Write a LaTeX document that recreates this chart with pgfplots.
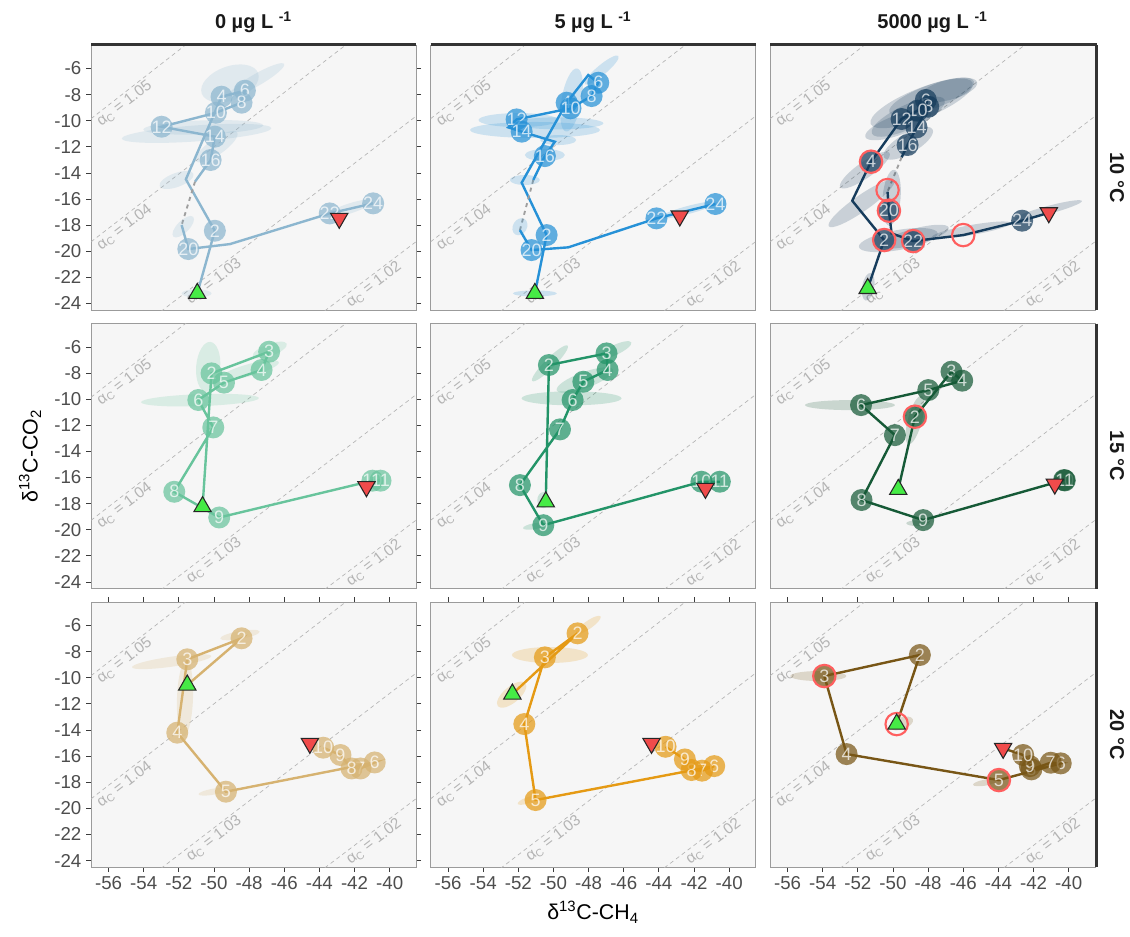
\documentclass[border=0pt]{standalone}
\usepackage{fontspec}
\setmainfont{Liberation Sans}
\usepackage{pgfplots}
\pgfplotsset{compat=1.18}

\definecolor{panbg}{RGB}{246,246,246}
\definecolor{bord}{RGB}{155,155,155}
\definecolor{tickc}{RGB}{60,60,60}
\definecolor{labc}{RGB}{77,77,77}
\definecolor{refc}{RGB}{180,180,180}
\definecolor{stripc}{RGB}{51,51,51}
\definecolor{ringred}{RGB}{255,95,95}
\definecolor{startg}{RGB}{70,235,70}
\definecolor{endr}{RGB}{240,75,75}
\definecolor{cA}{RGB}{140,182,207}
\definecolor{cB}{RGB}{38,145,215}
\definecolor{cC}{RGB}{22,60,92}
\definecolor{cD}{RGB}{104,196,156}
\definecolor{cE}{RGB}{35,148,104}
\definecolor{cF}{RGB}{22,90,55}
\definecolor{cG}{RGB}{214,178,112}
\definecolor{cH}{RGB}{229,154,20}
\definecolor{cI}{RGB}{120,86,22}

\pgfdeclareplotmark{ell}{%
  \pgfmathsetmacro\ellax{0.75*cos(\elang)*\elrx}%
  \pgfmathsetmacro\ellay{0.75*sin(\elang)*\elrx}%
  \pgfmathsetmacro\ellbx{-0.75*sin(\elang)*\elry}%
  \pgfmathsetmacro\ellby{0.75*cos(\elang)*\elry}%
  \pgfpathellipse{\pgfpointorigin}{\pgfpoint{\ellax pt}{\ellay pt}}{\pgfpoint{\ellbx pt}{\ellby pt}}%
  \pgfusepathqfill}

\tikzset{reflab/.style={text=refc, font=\fontsize{11.5}{12}\selectfont, rotate=37.5, anchor=north, inner sep=1.5pt}}

\pgfplotsset{
  pan/.style={anchor=north west, scale only axis, width=243.75pt, height=198.75pt,
    xmin=-57, xmax=-38.5, ymin=-24.5, ymax=-4.2,
    axis background/.style={fill=panbg},
    axis line style={draw=bord, line width=0.6pt},
    xtick={-56,-54,...,-40}, ytick={-24,-22,...,-6},
    tick align=outside, major tick length=3.75pt,
    tick style={draw=tickc, line width=0.6pt},
    tick label style={font=\fontsize{14}{16}\selectfont, text=labc},
    /pgf/number format/assume math mode=true},
  ellp/.style={scatter, only marks, mark=ell,
    scatter/use mapped color={draw=none, fill=#1, fill opacity=0.2},
    visualization depends on={\thisrow{rx}\as\elrx},
    visualization depends on={\thisrow{ry}\as\elry},
    visualization depends on={\thisrow{a}\as\elang}},
  pth/.style={color=#1, line width=1.8pt, mark=none},
  gapl/.style={color=gray!75, dashed, line width=1.4pt, mark=none},
  circ/.style={color=#1, only marks, mark=*, mark size=8.25pt,
    mark options={fill=#1, draw=#1, fill opacity=0.72, draw opacity=0, line width=0pt},
    nodes near coords, point meta=explicit symbolic,
    nodes near coords style={anchor=center, text=white, font=\fontsize{13.5}{13.5}\selectfont, inner sep=0pt}},
  ring/.style={color=ringred, only marks, mark=o, mark size=8.4pt, mark options={draw=ringred, line width=1.6pt}},
  startm/.style={color=black!85, only marks, mark=triangle*, mark size=7.5pt, mark options={fill=startg, draw=black!85, line width=0.8pt}},
  endm/.style={color=black!85, only marks, mark=triangle*, mark size=7.5pt, mark options={fill=endr, draw=black!85, line width=0.8pt, rotate=180}},
  refl/.style={color=refc, line width=0.5pt, dash pattern=on 3pt off 2.5pt, mark=none},
}

\newcommand\reflines{%
  \addplot[refl] coordinates {(-57,-38.14) (-38.5,-19.27)};
  \addplot[refl] coordinates {(-57,-28.71) (-38.5,-9.655)};
  \addplot[refl] coordinates {(-57,-19.28) (-38.5,-0.04)};
  \addplot[refl] coordinates {(-57,-9.85) (-38.5,9.575)};
  \node[reflab] at (axis cs:-55.4,-8.17) {α\textsubscript{C} = 1.05};
  \node[reflab] at (axis cs:-55.4,-17.62) {α\textsubscript{C} = 1.04};
  \node[reflab] at (axis cs:-50.3,-21.81) {α\textsubscript{C} = 1.03};
  \node[reflab] at (axis cs:-41.2,-22.02) {α\textsubscript{C} = 1.02};
}

\begin{document}
\begin{tikzpicture}
\fill[white] (0pt,0pt) rectangle (847.5pt,-702pt);
\useasboundingbox (0pt,0pt) rectangle (847.5pt,-702pt);

% ---------- Row 1 (10 C) ----------
\begin{axis}[pan, at={(68.25pt,-33.75pt)}, xtick=\empty]
\reflines
\addplot[ellp=cA] table[row sep=\\]{x y rx ry a\\
-49.09 -7.14 30 17 20\\ -50.99 -10.97 75 8 4\\ -50.61 -10.51 60 7 2\\ -47.58 -6.88 32 6 30\\
-49.85 -11.99 25 8 35\\ -52.13 -14.54 18 7 20\\ -51.75 -18.12 14 6 45\\ -50.99 -23.23 15 4 0\\ -42.27 -16.72 25 5 18\\};
\addplot[pth=cA] coordinates {(-50.95,-23.23) (-49.95,-18.43) (-51.60,-14.49) (-49.57,-8.16) (-48.24,-7.70) (-48.43,-8.62) (-49.89,-9.39) (-52.98,-10.46) (-49.95,-11.22) (-50.19,-13.01) (-51.08,-14.67)};
\addplot[gapl] coordinates {(-51.08,-14.67) (-51.84,-17.99)};
\addplot[pth=cA] coordinates {(-51.84,-17.99) (-51.46,-19.83) (-49.09,-19.45) (-43.41,-17.10) (-40.94,-16.33)};
\addplot[circ=cA] table[row sep=\\, meta=lab]{x y lab\\
-49.95 -18.43 2\\ -49.57 -8.16 4\\ -48.24 -7.70 6\\ -48.43 -8.62 8\\ -49.89 -9.39 10\\ -52.98 -10.46 12\\
-49.95 -11.22 14\\ -50.19 -13.01 16\\ -51.46 -19.83 20\\ -43.41 -17.10 22\\ -40.94 -16.33 24\\};
\addplot[startm] coordinates {(-50.95,-23.23)};
\addplot[endm] coordinates {(-42.87,-17.48)};
\end{axis}

\begin{axis}[pan, at={(322.875pt,-33.75pt)}, xtick=\empty, ytick=\empty]
\reflines
\addplot[ellp=cB] table[row sep=\\]{x y rx ry a\\
-51.05 -10.71 65 8 0\\ -51.99 -9.95 40 7 0\\ -49.72 -10.20 45 6 0\\ -48.97 -8.41 32 10 80\\
-47.26 -6.12 22 5 40\\ -50.49 -12.63 20 6 0\\ -49.73 -11.48 18 5 0\\ -51.63 -14.54 15 5 0\\
-51.06 -23.23 22 3 0\\ -51.91 -18.12 9 7 60\\ -42.34 -16.84 30 4 15\\};
\addplot[pth=cB] coordinates {(-51.06,-23.23) (-50.39,-18.76) (-51.81,-14.75) (-49.25,-8.62) (-48.02,-6.50) (-47.45,-7.09) (-47.83,-8.11) (-49.03,-9.05) (-52.10,-9.90) (-52.57,-10.51) (-51.81,-10.84) (-49.92,-11.61) (-50.49,-12.71) (-51.15,-14.54)};
\addplot[gapl] coordinates {(-51.15,-14.54) (-51.91,-18.38)};
\addplot[pth=cB] coordinates {(-51.91,-18.38) (-51.25,-19.91) (-49.16,-19.70) (-44.14,-17.48) (-40.78,-16.38)};
\addplot[circ=cB] table[row sep=\\, meta=lab]{x y lab\\
-50.39 -18.76 2\\ -49.25 -8.62 4\\ -47.45 -7.09 6\\ -47.83 -8.11 8\\ -49.03 -9.05 10\\ -52.10 -9.90 12\\
-51.81 -10.84 14\\ -50.49 -12.71 16\\ -51.25 -19.91 20\\ -44.14 -17.48 22\\ -40.78 -16.38 24\\};
\addplot[startm] coordinates {(-51.06,-23.23)};
\addplot[endm] coordinates {(-42.81,-17.30)};
\end{axis}

\begin{axis}[pan, at={(577.5pt,-33.75pt)}, xtick=\empty, ytick=\empty]
\reflines
\addplot[ellp=cC] table[row sep=\\]{x y rx ry a\\
-48.37 -8.67 55 15 22\\ -47.80 -8.16 45 12 20\\ -49.13 -9.69 40 12 25\\ -49.70 -10.33 35 10 20\\
-46.86 -7.65 30 10 15\\ -49.13 -11.73 28 10 30\\ -51.60 -13.78 30 8 35\\ -50.08 -15.90 28 9 85\\
-51.79 -16.33 40 8 35\\ -49.70 -19.14 40 10 10\\ -48.75 -18.88 35 8 15\\ -45.53 -18.37 40 5 10\\
-41.17 -16.84 35 4 15\\ -51.41 -22.72 14 6 80\\};
\addplot[pth=cC] coordinates {(-51.44,-22.85) (-50.50,-19.14) (-52.32,-16.13) (-51.25,-13.14) (-49.51,-9.87) (-48.60,-9.23) (-48.13,-8.41) (-47.99,-8.93) (-48.66,-10.51) (-49.17,-11.86) (-49.51,-12.81)};
\addplot[gapl] coordinates {(-49.51,-12.81) (-50.31,-15.44)};
\addplot[pth=cC] coordinates {(-50.31,-15.44) (-50.23,-16.89) (-50.08,-18.63) (-48.85,-19.22) (-46.00,-18.76) (-42.65,-17.66) (-41.13,-17.05)};
\addplot[circ=cC] table[row sep=\\, meta=lab]{x y lab\\
-50.50 -19.14 2\\ -51.25 -13.14 4\\ -48.13 -8.41 6\\ -47.99 -8.93 8\\ -48.60 -9.23 10\\ -49.51 -9.87 12\\
-48.66 -10.51 14\\ -49.17 -11.86 16\\ -50.23 -16.89 20\\ -48.85 -19.22 22\\ -42.65 -17.66 24\\};
\addplot[ring] coordinates {(-51.25,-13.14) (-50.31,-15.31) (-50.23,-16.89) (-50.50,-19.14) (-48.85,-19.22) (-46.00,-18.76)};
\addplot[startm] coordinates {(-51.44,-22.85)};
\addplot[endm] coordinates {(-41.13,-17.05)};
\end{axis}

% ---------- Row 2 (15 C) ----------
\begin{axis}[pan, at={(68.25pt,-242.625pt)}, xtick=\empty]
\reflines
\addplot[ellp=cD] table[row sep=\\]{x y rx ry a\\
-50.80 -10.07 59 6 2\\ -50.33 -7.52 25 12 85\\ -46.82 -6.23 18 6 20\\ -47.96 -7.76 30 6 15\\};
\addplot[pth=cD] coordinates {(-50.65,-18.23) (-50.14,-8.02) (-46.86,-6.36) (-47.29,-7.76) (-49.43,-8.73) (-50.89,-10.06) (-50.04,-12.16) (-52.26,-17.09) (-49.70,-19.06) (-40.98,-16.24) (-40.52,-16.24)};
\addplot[circ=cD] table[row sep=\\, meta=lab]{x y lab\\
-50.14 -8.02 2\\ -46.86 -6.36 3\\ -47.29 -7.76 4\\ -49.43 -8.73 5\\ -50.89 -10.06 6\\ -50.04 -12.16 7\\
-52.26 -17.09 8\\ -49.70 -19.06 9\\ -40.98 -16.24 10\\ -40.52 -16.24 11\\};
\addplot[startm] coordinates {(-50.65,-18.23)};
\addplot[endm] coordinates {(-41.32,-16.70)};
\end{axis}

\begin{axis}[pan, at={(322.875pt,-242.625pt)}, xtick=\empty, ytick=\empty]
\reflines
\addplot[ellp=cE] table[row sep=\\]{x y rx ry a\\
-48.97 -9.93 50 7 0\\ -48.21 -8.53 30 8 20\\ -50.20 -7.25 25 5 45\\ -46.50 -6.23 18 5 25\\
-50.58 -17.73 6 8 0\\ -51.06 -19.72 12 3 10\\};
\addplot[pth=cE] coordinates {(-50.44,-17.86) (-50.26,-7.38) (-46.98,-6.49) (-46.92,-7.76) (-48.30,-8.66) (-48.91,-10.06) (-49.63,-12.31) (-51.91,-16.58) (-50.58,-19.65) (-41.58,-16.32) (-40.53,-16.32)};
\addplot[circ=cE] table[row sep=\\, meta=lab]{x y lab\\
-50.26 -7.38 2\\ -46.98 -6.49 3\\ -46.92 -7.76 4\\ -48.30 -8.66 5\\ -48.91 -10.06 6\\ -49.63 -12.31 7\\
-51.91 -16.58 8\\ -50.58 -19.65 9\\ -41.58 -16.32 10\\ -40.53 -16.32 11\\};
\addplot[startm] coordinates {(-50.44,-17.86)};
\addplot[endm] coordinates {(-41.35,-16.83)};
\end{axis}

\begin{axis}[pan, at={(577.5pt,-242.625pt)}, xtick=\empty, ytick=\empty]
\reflines
\addplot[ellp=cF] table[row sep=\\]{x y rx ry a\\
-52.45 -10.45 45 5 0\\ -48.75 -11.60 25 7 75\\ -48.56 -19.50 12 3 0\\};
\addplot[pth=cF] coordinates {(-49.70,-16.91) (-48.75,-11.34) (-46.67,-7.89) (-46.06,-8.58) (-47.99,-9.30) (-51.82,-10.45) (-49.89,-12.75) (-51.79,-17.72) (-48.28,-19.26) (-40.26,-16.19) (-40.22,-16.22)};
\addplot[circ=cF] table[row sep=\\, meta=lab]{x y lab\\
-48.75 -11.34 2\\ -46.67 -7.89 3\\ -46.06 -8.58 4\\ -47.99 -9.30 5\\ -51.82 -10.45 6\\ -49.89 -12.75 7\\
-51.79 -17.72 8\\ -48.28 -19.26 9\\ -40.26 -16.19 10\\ -40.22 -16.22 11\\};
\addplot[ring] coordinates {(-48.75,-11.34)};
\addplot[startm] coordinates {(-49.70,-16.91)};
\addplot[endm] coordinates {(-40.79,-16.50)};
\end{axis}

% ---------- Row 3 (20 C) ----------
\begin{axis}[pan, at={(68.25pt,-451.5pt)}]
\reflines
\addplot[ellp=cG] table[row sep=\\]{x y rx ry a\\
-51.65 -11.58 38 8 88\\ -52.41 -8.77 40 5 8\\ -48.52 -6.73 20 4 10\\ -50.04 -18.73 15 3 10\\};
\addplot[pth=cG] coordinates {(-51.52,-10.56) (-48.43,-6.98) (-51.52,-8.59) (-52.09,-14.21) (-49.32,-18.73) (-40.85,-16.49) (-41.66,-16.95) (-42.17,-16.95) (-42.80,-15.92) (-43.78,-15.36)};
\addplot[circ=cG] table[row sep=\\, meta=lab]{x y lab\\
-48.43 -6.98 2\\ -51.52 -8.59 3\\ -52.09 -14.21 4\\ -49.32 -18.73 5\\ -40.85 -16.49 6\\ -41.66 -16.95 7\\
-42.17 -16.95 8\\ -42.80 -15.92 9\\ -43.78 -15.36 10\\};
\addplot[startm] coordinates {(-51.52,-10.56)};
\addplot[endm] coordinates {(-44.54,-15.03)};
\end{axis}

\begin{axis}[pan, at={(322.875pt,-451.5pt)}, ytick=\empty]
\reflines
\addplot[ellp=cH] table[row sep=\\]{x y rx ry a\\
-50.20 -8.26 38 8 0\\ -52.38 -11.30 18 8 40\\ -48.02 -5.96 15 4 35\\ -51.50 -19.40 10 3 20\\};
\addplot[pth=cH] coordinates {(-52.34,-11.25) (-48.63,-6.60) (-50.49,-8.44) (-51.66,-13.55) (-51.02,-19.37) (-40.85,-16.77) (-41.54,-17.12) (-42.14,-17.07) (-42.52,-16.26) (-43.62,-15.29)};
\addplot[circ=cH] table[row sep=\\, meta=lab]{x y lab\\
-48.63 -6.60 2\\ -50.49 -8.44 3\\ -51.66 -13.55 4\\ -51.02 -19.37 5\\ -40.85 -16.77 6\\ -41.54 -17.12 7\\
-42.14 -17.07 8\\ -42.52 -16.26 9\\ -43.62 -15.29 10\\};
\addplot[startm] coordinates {(-52.34,-11.25)};
\addplot[endm] coordinates {(-44.42,-15.03)};
\end{axis}

\begin{axis}[pan, at={(577.5pt,-451.5pt)}, ytick=\empty]
\reflines
\addplot[ellp=cI] table[row sep=\\]{x y rx ry a\\
-54.25 -9.87 28 5 0\\ -49.51 -13.50 12 6 20\\ -44.77 -18.04 12 3 10\\};
\addplot[pth=cI] coordinates {(-49.79,-13.55) (-48.47,-8.26) (-53.91,-9.87) (-52.64,-15.85) (-43.97,-17.84) (-40.45,-16.56) (-41.02,-16.51) (-42.12,-17.02) (-42.21,-16.77) (-42.59,-15.92) (-43.73,-15.41)};
\addplot[circ=cI] table[row sep=\\, meta=lab]{x y lab\\
-48.47 -8.26 2\\ -53.91 -9.87 3\\ -52.64 -15.85 4\\ -43.97 -17.84 5\\ -40.45 -16.56 6\\ -41.02 -16.51 7\\
-42.12 -17.02 8\\ -42.21 -16.77 9\\ -42.59 -15.92 10\\};
\addplot[ring] coordinates {(-53.91,-9.87) (-49.79,-13.55) (-43.97,-17.84)};
\addplot[startm] coordinates {(-49.79,-13.55)};
\addplot[endm] coordinates {(-43.73,-15.41)};
\end{axis}

% ---------- strips and titles ----------
\begin{scope}[x=0.75pt,y=0.75pt]
\draw[stripc, line width=2.25pt] (91,-44) -- (416,-44);
\draw[stripc, line width=2.25pt] (430.5,-44) -- (755.5,-44);
\draw[stripc, line width=2.25pt] (770,-44) -- (1096.5,-44);
\draw[stripc, line width=2.25pt] (1096.5,-45) -- (1096.5,-310);
\draw[stripc, line width=2.25pt] (1096.5,-323.5) -- (1096.5,-588.5);
\draw[stripc, line width=2.25pt] (1096.5,-602) -- (1096.5,-867);

\node[font=\fontsize{15}{17}\selectfont\bfseries, text=black!90] at (253.5,-22) {0 µg L \textsuperscript{-1}};
\node[font=\fontsize{15}{17}\selectfont\bfseries, text=black!90] at (593,-22) {5 µg L \textsuperscript{-1}};
\node[font=\fontsize{15}{17}\selectfont\bfseries, text=black!90] at (932.5,-22) {5000 µg L \textsuperscript{-1}};

\node[rotate=-90, font=\fontsize{15}{17}\selectfont\bfseries, text=black!90] at (1117,-177.5) {10 °C};
\node[rotate=-90, font=\fontsize{15}{17}\selectfont\bfseries, text=black!90] at (1117,-456) {15 °C};
\node[rotate=-90, font=\fontsize{15}{17}\selectfont\bfseries, text=black!90] at (1117,-734.5) {20 °C};

\node[rotate=90, font=\fontsize{16}{18}\selectfont] at (30,-456) {δ\textsuperscript{13}C-CO\textsubscript{2}};
\node[font=\fontsize{16}{18}\selectfont] at (593,-912) {δ\textsuperscript{13}C-CH\textsubscript{4}};
\end{scope}
\end{tikzpicture}
\end{document}
